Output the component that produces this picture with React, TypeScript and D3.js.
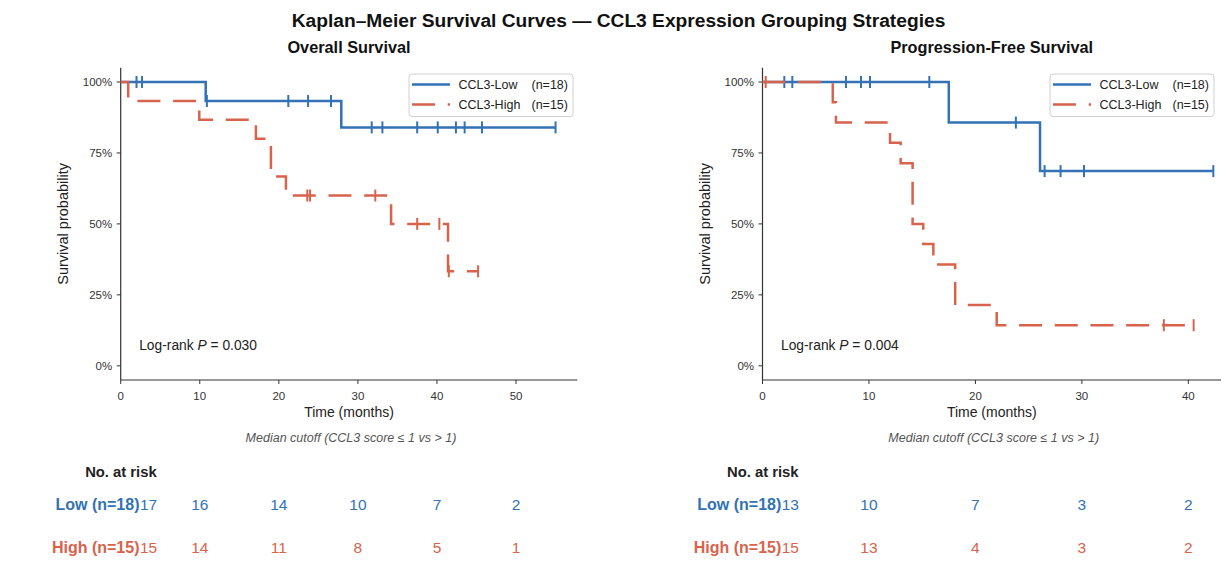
import React from "react";
import * as d3 from "d3";

const W = 1227;
const H = 565;
const FONT = "'Liberation Sans', Arial, Helvetica, sans-serif";
const BLUE = "#3272b5";
const RED = "#d8634c";
const AXIS = "#333333";

// ---------- data ----------
const yTicks = [0, 0.25, 0.5, 0.75, 1];
const osTicks = [0, 10, 20, 30, 40, 50];
const pfsTicks = [0, 10, 20, 30, 40];

// Overall survival
const osLowEvents: [number, number][] = [
  [10.75, 0.933],
  [27.9, 0.84],
];
const osLowCensor = [2.0, 2.7, 10.9, 21.2, 23.7, 26.6, 31.75, 33.1, 37.5, 40.1, 42.4, 43.5, 45.7, 55];
const osLowEnd = 55;

const osHighEvents: [number, number][] = [
  [0.95, 0.933],
  [9.94, 0.867],
  [17.1, 0.8],
  [19.0, 0.667],
  [20.9, 0.6],
  [34.2, 0.5],
  [41.4, 0.333],
];
const osHighCensor = [23.6, 23.95, 32.2, 37.5, 40.3, 41.5, 45.2];
const osHighEnd = 45.2;

// Progression-free survival
const pfsLowEvents: [number, number][] = [
  [17.5, 0.857],
  [26.07, 0.686],
];
const pfsLowCensor = [2.05, 2.8, 7.84, 9.25, 10.1, 15.67, 23.8, 26.5, 28.0, 30.2, 42.35];
const pfsLowEnd = 42.35;

const pfsHighEvents: [number, number][] = [
  [6.6, 0.929],
  [6.9, 0.857],
  [11.98, 0.786],
  [12.98, 0.714],
  [14.1, 0.5],
  [15.1, 0.429],
  [16.05, 0.357],
  [18.1, 0.214],
  [22.0, 0.143],
];
const pfsHighCensor = [0.3, 37.7, 40.5];
const pfsHighEnd = 40.5;

// Numbers at risk
const osRiskTimes = [0, 10, 20, 30, 40, 50];
const osRiskLow = [17, 16, 14, 10, 7, 2];
const osRiskHigh = [15, 14, 11, 8, 5, 1];
const pfsRiskTimes = [0, 10, 20, 30, 40];
const pfsRiskLow = [13, 10, 7, 3, 2];
const pfsRiskHigh = [15, 13, 4, 3, 2];

const lowLabel = "CCL3-Low";
const highLabel = "CCL3-High";
const lowN = "(n=18)";
const highN = "(n=15)";

// ---------- helpers ----------
function survAt(events: [number, number][], t: number) {
  let s = 1;
  for (const [et, es] of events) if (et <= t) s = es;
  return s;
}

type Series = { events: [number, number][]; censor: number[]; end: number };

type PanelProps = {
  title: string;
  x0: number;
  x1: number;
  xMax: number;
  xTicks: number[];
  low: Series;
  high: Series;
  pValue: string;
  riskTimes: number[];
  riskLow: number[];
  riskHigh: number[];
  legendX: number;
};

const TOP = 67.8;
const BOTTOM = 380;

function Panel(p: PanelProps) {
  const x = d3.scaleLinear().domain([0, p.xMax]).range([p.x0, p.x1]);
  const y = d3.scaleLinear().domain([-0.05, 1.05]).range([BOTTOM, TOP]);
  const line = d3
    .line<[number, number]>()
    .x((d) => x(d[0]))
    .y((d) => y(d[1]))
    .curve(d3.curveStepAfter);

  const pathFor = (s: Series) => {
    const pts: [number, number][] = [[0, 1], ...s.events];
    const last = pts[pts.length - 1][1];
    pts.push([s.end, last]);
    return line(pts) || "";
  };

  const cx = (p.x0 + p.x1) / 2;

  const renderSeries = (s: Series, color: string, dashed: boolean) => (
    <g>
      <path
        d={pathFor(s)}
        fill="none"
        stroke={color}
        strokeWidth={2.5}
        strokeDasharray={dashed ? "23,12.7" : undefined}
      />
      {s.censor.map((t, i) => {
        const yy = y(survAt(s.events, t));
        return (
          <line
            key={i}
            x1={x(t)}
            x2={x(t)}
            y1={yy - 6}
            y2={yy + 6}
            stroke={color}
            strokeWidth={2}
          />
        );
      })}
    </g>
  );

  const lx = p.legendX;
  const ly = 74;

  return (
    <g>
      <text x={cx} y={52.5} textAnchor="middle" fontWeight="bold" fontSize={16.3} fill="#111">
        {p.title}
      </text>

      {/* axes */}
      <line x1={p.x0} x2={p.x0} y1={TOP} y2={BOTTOM} stroke={AXIS} strokeWidth={1.2} />
      <line x1={p.x0} x2={p.x1} y1={BOTTOM} y2={BOTTOM} stroke={AXIS} strokeWidth={1.2} />
      {yTicks.map((t) => (
        <g key={t}>
          <line x1={p.x0 - 4} x2={p.x0} y1={y(t)} y2={y(t)} stroke={AXIS} strokeWidth={1} />
          <text x={p.x0 - 8.5} y={y(t)} dy="0.35em" textAnchor="end" fontSize={11.5} fill="#333">
            {d3.format(".0%")(t)}
          </text>
        </g>
      ))}
      {p.xTicks.map((t) => (
        <g key={t}>
          <line x1={x(t)} x2={x(t)} y1={BOTTOM} y2={BOTTOM + 4} stroke={AXIS} strokeWidth={1} />
          <text x={x(t)} y={399.5} textAnchor="middle" fontSize={11.5} fill="#333">
            {t}
          </text>
        </g>
      ))}
      <text x={cx} y={417} textAnchor="middle" fontSize={14} fill="#222">
        Time (months)
      </text>
      <text
        transform={`translate(${p.x0 - 53},${(TOP + BOTTOM) / 2}) rotate(-90)`}
        textAnchor="middle"
        fontSize={14.5}
        fill="#222"
      >
        Survival probability
      </text>
      <text x={cx + 2} y={441.5} textAnchor="middle" fontSize={12.5} fontStyle="italic" fill="#555">
        Median cutoff (CCL3 score ≤ 1 vs &gt; 1)
      </text>

      {/* curves */}
      {renderSeries(p.low, BLUE, false)}
      {renderSeries(p.high, RED, true)}

      {/* log-rank */}
      <text x={p.x0 + 18.5} y={349.5} fontSize={13.8} fill="#222">
        Log-rank <tspan fontStyle="italic">P</tspan> = {p.pValue}
      </text>

      {/* legend */}
      <rect x={lx} y={ly} width={164} height={42.5} rx={3} fill="rgba(255,255,255,0.85)" stroke="#d0d0d0" strokeWidth={1} />
      <line x1={lx + 3} x2={lx + 41} y1={ly + 10.5} y2={ly + 10.5} stroke={BLUE} strokeWidth={2.5} />
      <line x1={lx + 3} x2={lx + 41} y1={ly + 30.5} y2={ly + 30.5} stroke={RED} strokeWidth={2.5} strokeDasharray="23,12.7" />
      <text x={lx + 49.5} y={ly + 10.5} dy="0.35em" fontSize={12.5} fill="#222">{lowLabel}</text>
      <text x={lx + 122.5} y={ly + 10.5} dy="0.35em" fontSize={12.5} fill="#222">{lowN}</text>
      <text x={lx + 49.5} y={ly + 30.5} dy="0.35em" fontSize={12.5} fill="#222">{highLabel}</text>
      <text x={lx + 122.5} y={ly + 30.5} dy="0.35em" fontSize={12.5} fill="#222">{highN}</text>

      {/* at risk table */}
      <text x={p.x0 + 36} y={476.5} textAnchor="end" fontWeight="bold" fontSize={14.8} fill="#222">
        No. at risk
      </text>
      <text x={p.x0 + 18.8} y={510} textAnchor="end" fontWeight="bold" fontSize={16} fill={BLUE}>
        Low {lowN}
      </text>
      <text x={p.x0 + 18.8} y={552.5} textAnchor="end" fontWeight="bold" fontSize={16} fill={RED}>
        High {highN}
      </text>
      {p.riskTimes.map((t, i) => (
        <g key={t}>
          <text
            x={t === 0 ? p.x0 + 19.2 : x(t)}
            y={510}
            textAnchor={t === 0 ? "start" : "middle"}
            fontSize={15.5}
            fill={BLUE}
          >
            {p.riskLow[i]}
          </text>
          <text
            x={t === 0 ? p.x0 + 19.2 : x(t)}
            y={552.5}
            textAnchor={t === 0 ? "start" : "middle"}
            fontSize={15.5}
            fill={RED}
          >
            {p.riskHigh[i]}
          </text>
        </g>
      ))}
    </g>
  );
}

export default function App() {
  return (
    <svg
      width={W}
      height={H}
      viewBox={`0 0 ${W} ${H}`}
      style={{ position: "absolute", left: 0, top: 0, background: "#fff", fontFamily: FONT }}
    >
      <rect x={0} y={0} width={W} height={H} fill="#fff" />
      <text x={618.5} y={26.5} textAnchor="middle" fontWeight="bold" fontSize={19.2} fill="#111">
        Kaplan–Meier Survival Curves — CCL3 Expression Grouping Strategies
      </text>
      <Panel
        title="Overall Survival"
        x0={120.7}
        x1={577.3}
        xMax={57.75}
        xTicks={osTicks}
        low={{ events: osLowEvents, censor: osLowCensor, end: osLowEnd }}
        high={{ events: osHighEvents, censor: osHighCensor, end: osHighEnd }}
        pValue="0.030"
        riskTimes={osRiskTimes}
        riskLow={osRiskLow}
        riskHigh={osRiskHigh}
        legendX={409}
      />
      <Panel
        title="Progression-Free Survival"
        x0={762.5}
        x1={1221}
        xMax={43.07}
        xTicks={pfsTicks}
        low={{ events: pfsLowEvents, censor: pfsLowCensor, end: pfsLowEnd }}
        high={{ events: pfsHighEvents, censor: pfsHighCensor, end: pfsHighEnd }}
        pValue="0.004"
        riskTimes={pfsRiskTimes}
        riskLow={pfsRiskLow}
        riskHigh={pfsRiskHigh}
        legendX={1050}
      />
    </svg>
  );
}
